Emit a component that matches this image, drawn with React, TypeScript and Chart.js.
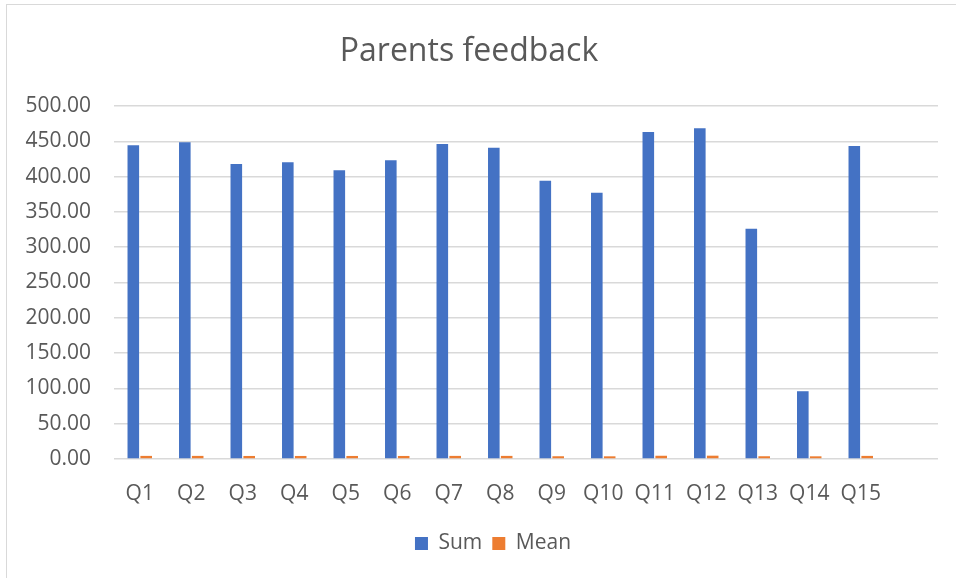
import React, { useEffect, useRef } from "react";
import { Chart, registerables } from "chart.js";

Chart.register(...registerables);

const categories = ["Q1", "Q2", "Q3", "Q4", "Q5", "Q6", "Q7", "Q8", "Q9", "Q10", "Q11", "Q12", "Q13", "Q14", "Q15", ""];
const sumValues = [444.5, 448.7, 418, 420.5, 409, 423, 446, 440.7, 394, 377, 463, 468.5, 326, 96, 443.5, null];
const meanValues = [4.4, 4.4, 4.3, 4.3, 4.3, 4.3, 4.4, 4.4, 3.9, 3.8, 4.6, 4.7, 3.9, 3.8, 4.4, null];
const yTicksMin = 0;
const yTicksMax = 500;
const yTicksStep = 50;

const FONT = "'Open Sans', 'DejaVu Sans', sans-serif";
const TEXT = "#595959";

const legendShift = {
  id: "legendShift",
  afterLayout(chart: any) {
    const lg = chart.legend;
    if (lg) {
      lg.left += 24;
      lg.right += 24;
    }
  },
};

export default function App() {
  const ref = useRef<HTMLCanvasElement | null>(null);
  useEffect(() => {
    if (!ref.current) return;
    const chart = new Chart(ref.current, {
      type: "bar",
      data: {
        labels: categories,
        datasets: [
          { label: "Sum", data: sumValues as any, backgroundColor: "#4472C4", categoryPercentage: 0.5, barPercentage: 0.9 },
          { label: "Mean", data: meanValues as any, backgroundColor: "#ED7D31", categoryPercentage: 0.5, barPercentage: 0.9 },
        ],
      },
      plugins: [legendShift],
      options: {
        animation: false,
        responsive: false,
        maintainAspectRatio: false,
        layout: { padding: { left: 0, right: 18, top: 0, bottom: 14 } },
        plugins: {
          title: {
            display: true,
            text: "Parents feedback",
            color: TEXT,
            font: { family: FONT, size: 32, weight: "normal" as any, lineHeight: 1.2 },
            padding: { top: 33, bottom: 34.6 },
          },
          legend: {
            position: "bottom",
            labels: {
              color: TEXT,
              font: { family: FONT, size: 21 },
              boxWidth: 13,
              boxHeight: 13,
              padding: 10,
            },
          },
          tooltip: { enabled: false },
        },
        scales: {
          x: {
            grid: { display: false },
            border: { display: false },
            ticks: { color: TEXT, font: { family: FONT, size: 21 }, padding: 14, maxRotation: 0, autoSkip: false },
            afterFit: (s: any) => { s.height = 64; },
          },
          y: {
            min: yTicksMin,
            max: yTicksMax,
            grid: { color: "#d9d9d9", lineWidth: 1.5, drawTicks: false },
            border: { display: false },
            ticks: {
              stepSize: yTicksStep,
              color: TEXT,
              font: { family: FONT, size: 21 },
              padding: 23,
              callback: (v: any) => Number(v).toFixed(2),
            },
            afterFit: (s: any) => { s.width = 114; },
          },
        },
      },
    });
    return () => chart.destroy();
  }, []);
  return (
    <div style={{ position: "fixed", left: 0, top: 0, width: 956, height: 578, background: "#fff" }}>
      <div style={{ position: "absolute", left: 6, top: 4, width: 980, height: 600, border: "1px solid #d9d9d9", boxSizing: "border-box" }} />
      <canvas ref={ref} width={956} height={578} style={{ position: "absolute", left: 0, top: 0, width: 956, height: 578 }} />
    </div>
  );
}
